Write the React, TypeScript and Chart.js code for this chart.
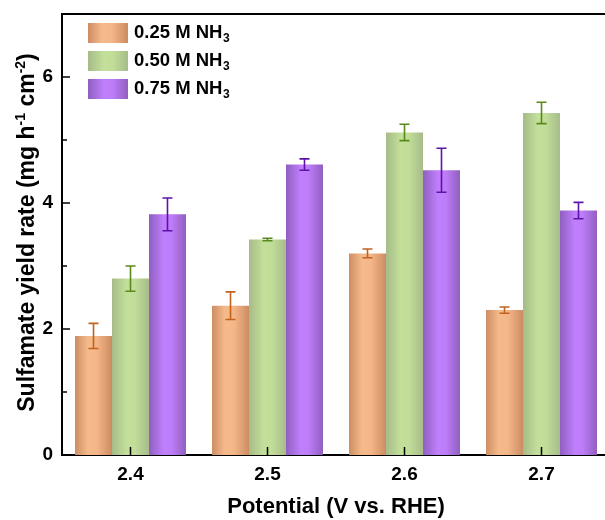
import React, { useEffect, useRef } from "react";
import { Chart, registerables } from "chart.js";

Chart.register(...registerables);

const categories = ["2.4", "2.5", "2.6", "2.7"];
const seriesLabels = ["0.25 M NH", "0.50 M NH", "0.75 M NH"];
const seriesSub = ["3", "3", "3"];
const values025 = [1.89, 2.37, 3.2, 2.3];
const values050 = [2.8, 3.42, 5.12, 5.43];
const values075 = [3.82, 4.61, 4.52, 3.88];
const err025 = [0.2, 0.22, 0.07, 0.05];
const err050 = [0.2, 0.02, 0.13, 0.17];
const err075 = [0.26, 0.09, 0.35, 0.13];
const yTickValues = [0, 2, 4, 6];
const yMinorTickValues = [1, 3, 5];
const yMin = 0;
const yMax = 7;

const FONT = '"Liberation Sans", Arial, sans-serif';
const CAT_PCT = 0.81;

const gradStops = [
  [
    [0, "#cd8d63"],
    [0.35, "#f5ba8b"],
    [0.6, "#f3b688"],
    [1, "#cc8c62"],
  ],
  [
    [0, "#a6bb88"],
    [0.4, "#c3e09a"],
    [0.62, "#c1dd98"],
    [1, "#a7bc8a"],
  ],
  [
    [0, "#8f5fc0"],
    [0.4, "#c07ffc"],
    [0.62, "#bd7cf8"],
    [1, "#905fbe"],
  ],
];
const solidColors = ["#f0b184", "#bcd795", "#b577ef"];
const errColors = ["#c3621d", "#5a8a1a", "#5e12a8"];

function makeGrad(ctx: CanvasRenderingContext2D, x0: number, x1: number, idx: number) {
  const g = ctx.createLinearGradient(x0, 0, x1, 0);
  for (const [o, c] of gradStops[idx]) g.addColorStop(o as number, c as string);
  return g;
}

export default function App() {
  const ref = useRef<HTMLCanvasElement | null>(null);

  useEffect(() => {
    if (!ref.current) return;
    const errs = [err025, err050, err075];

    const bg = (idx: number) => (c: any) => {
      const chart = c.chart;
      const xs = chart.scales?.x;
      if (!xs || c.type !== "data" || xs.right === undefined) return solidColors[idx];
      const center = xs.getPixelForValue(c.dataIndex);
      const catW = (xs.right - xs.left) / categories.length;
      const bw = (catW * CAT_PCT) / 3;
      const left = center + (c.datasetIndex - 1.5) * bw;
      return makeGrad(chart.ctx, left, left + bw, idx);
    };

    const customPlugin = {
      id: "custom",
      afterDatasetsDraw(chart: any) {
        const ctx = chart.ctx as CanvasRenderingContext2D;
        const ys = chart.scales.y;
        const xs = chart.scales.x;
        const area = chart.chartArea;
        ctx.save();
        // error bars
        chart.data.datasets.forEach((ds: any, di: number) => {
          const meta = chart.getDatasetMeta(di);
          meta.data.forEach((el: any, i: number) => {
            const v = ds.data[i];
            const e = errs[di][i];
            const yt = ys.getPixelForValue(v + e);
            const yb = ys.getPixelForValue(v - e);
            ctx.strokeStyle = errColors[di];
            ctx.lineWidth = 1.6;
            ctx.beginPath();
            ctx.moveTo(el.x, yt);
            ctx.lineTo(el.x, yb);
            ctx.moveTo(el.x - 5, yt);
            ctx.lineTo(el.x + 5, yt);
            ctx.moveTo(el.x - 5, yb);
            ctx.lineTo(el.x + 5, yb);
            ctx.stroke();
          });
        });
        // top frame line
        ctx.strokeStyle = "#000";
        ctx.lineWidth = 2;
        ctx.beginPath();
        ctx.moveTo(area.left - 1, area.top);
        ctx.lineTo(area.right + 1, area.top);
        ctx.stroke();
        // inward ticks
        ctx.lineWidth = 1.5;
        ctx.beginPath();
        yTickValues.forEach((v) => {
          const y = ys.getPixelForValue(v);
          ctx.moveTo(area.left, y);
          ctx.lineTo(area.left + 8, y);
        });
        yMinorTickValues.forEach((v) => {
          const y = ys.getPixelForValue(v);
          ctx.moveTo(area.left, y);
          ctx.lineTo(area.left + 5, y);
        });
        categories.forEach((_, i) => {
          const x = xs.getPixelForValue(i);
          ctx.moveTo(x, area.bottom);
          ctx.lineTo(x, area.bottom - 8);
        });
        ctx.stroke();

        // legend
        ctx.textBaseline = "middle";
        ctx.textAlign = "left";
        seriesLabels.forEach((lab, i) => {
          const top = 23 + i * 28;
          ctx.fillStyle = makeGrad(ctx, 88, 128, i);
          ctx.fillRect(88, top, 40, 20);
          ctx.fillStyle = "#000";
          ctx.font = `bold 18.5px ${FONT}`;
          ctx.fillText(lab, 134, top + 10);
          const w = ctx.measureText(lab).width;
          ctx.font = `bold 12px ${FONT}`;
          ctx.fillText(seriesSub[i], 134 + w + 0.5, top + 16);
        });

        // x title
        ctx.font = `bold 22px ${FONT}`;
        ctx.textAlign = "center";
        ctx.textBaseline = "alphabetic";
        ctx.fillText("Potential (V vs. RHE)", (area.left + area.right) / 2, 513);

        // y title with superscripts
        const parts: [string, boolean][] = [
          ["Sulfamate yield rate (mg h", false],
          ["-1", true],
          [" cm", false],
          ["-2", true],
          [")", false],
        ];
        const big = `bold 23px ${FONT}`;
        const small = `bold 14px ${FONT}`;
        let total = 0;
        parts.forEach(([t, sup]) => {
          ctx.font = sup ? small : big;
          total += ctx.measureText(t).width;
        });
        ctx.translate(34, (area.top + area.bottom) / 2 - 2);
        ctx.rotate(-Math.PI / 2);
        ctx.textAlign = "left";
        let xx = -total / 2;
        parts.forEach(([t, sup]) => {
          ctx.font = sup ? small : big;
          ctx.fillText(t, xx, sup ? -9 : 0);
          xx += ctx.measureText(t).width;
        });
        ctx.restore();
      },
    };

    const chart = new Chart(ref.current, {
      type: "bar",
      data: {
        labels: categories,
        datasets: [
          { label: seriesLabels[0] + seriesSub[0], data: values025, backgroundColor: bg(0) },
          { label: seriesLabels[1] + seriesSub[1], data: values050, backgroundColor: bg(1) },
          { label: seriesLabels[2] + seriesSub[2], data: values075, backgroundColor: bg(2) },
        ],
      },
      options: {
        animation: false,
        responsive: true,
        maintainAspectRatio: false,
        layout: { padding: { top: 14, right: 1, left: 0, bottom: 0 } },
        datasets: { bar: { categoryPercentage: CAT_PCT, barPercentage: 1.0 } },
        plugins: { legend: { display: false }, tooltip: { enabled: false } },
        scales: {
          x: {
            grid: { display: false, drawTicks: false },
            border: { display: true, color: "#000", width: 2 },
            ticks: { color: "#000", font: { family: FONT, size: 19, weight: "bold" }, padding: 8 },
            afterFit: (s: any) => {
              s.height = 65;
              s.paddingLeft = 0;
              s.paddingRight = 0;
            },
          },
          y: {
            min: yMin,
            max: yMax,
            grid: { display: false, drawTicks: false },
            border: { display: true, color: "#000", width: 2 },
            ticks: { color: "#000", font: { family: FONT, size: 19, weight: "bold" }, padding: 9 },
            afterBuildTicks: (s: any) => {
              s.ticks = yTickValues.map((v) => ({ value: v }));
            },
            afterFit: (s: any) => {
              s.width = 62;
              s.paddingTop = 0;
              s.paddingBottom = 0;
            },
          },
        },
      },
      plugins: [customPlugin],
    });
    chart.update();
    return () => chart.destroy();
  }, []);

  return (
    <div style={{ position: "fixed", left: 0, top: 0, width: 605, height: 520, overflow: "hidden", background: "#fff" }}>
      <div style={{ position: "relative", width: 611, height: 520 }}>
        <canvas ref={ref} />
      </div>
    </div>
  );
}
